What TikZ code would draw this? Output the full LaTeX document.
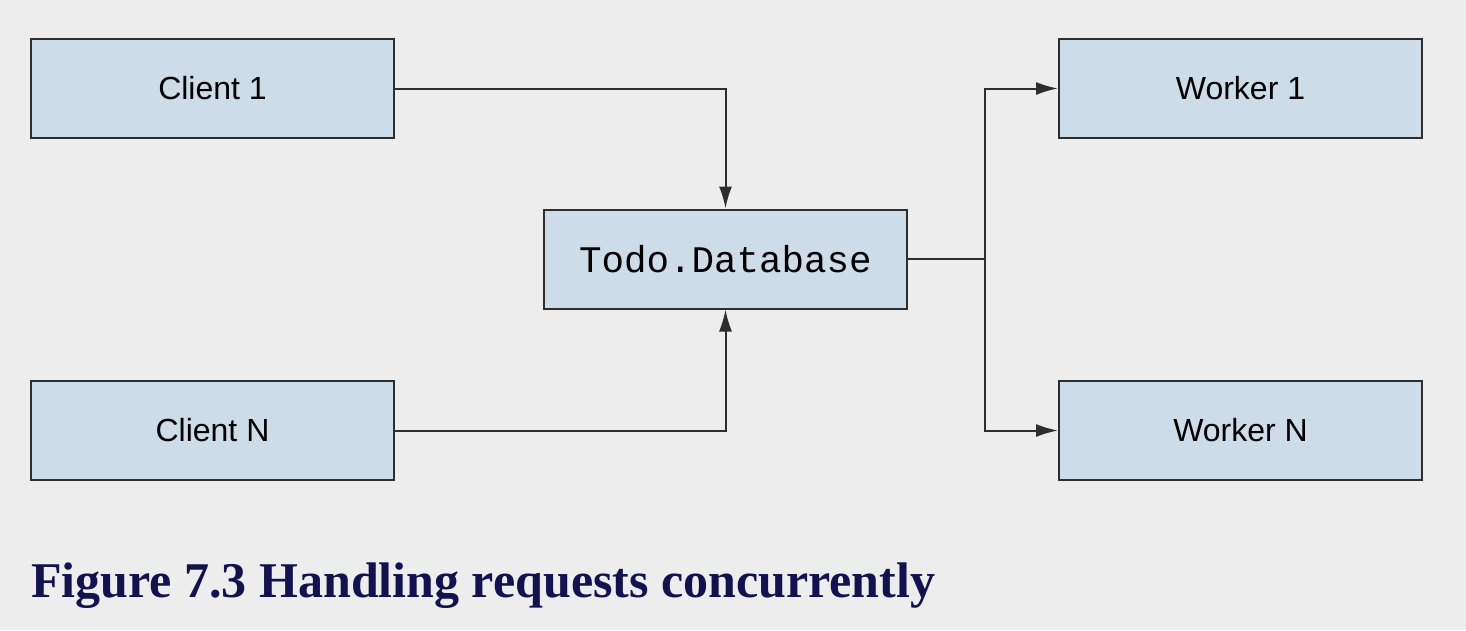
\documentclass[tikz,border=0pt]{standalone}
\usepackage{fontspec}
\setmainfont{Liberation Sans}
\newfontfamily\monofont{Liberation Mono}
\newfontfamily\capfont{Liberation Serif}
\usetikzlibrary{arrows.meta}
\definecolor{bg}{HTML}{EDEDED}
\definecolor{boxfill}{HTML}{CDDCE9}
\definecolor{edge}{HTML}{2E2E2E}
\definecolor{capcol}{HTML}{12124F}
\begin{document}
\begin{tikzpicture}[x=1pt,y=-1pt,
  box/.style={draw=edge,line width=2pt,fill=boxfill,minimum width=363pt,minimum height=99pt,inner sep=0pt,font=\fontsize{32}{36}\selectfont},
  conn/.style={draw=edge,line width=2pt},
  arr/.style={conn,-{Latex[length=22pt,width=13pt]}}]
\fill[bg] (0,0) rectangle (1466,630);
\useasboundingbox (0,0) rectangle (1466,630);
\node[box] (c1) at (212.5,88.5) {Client 1};
\node[box] (cn) at (212.5,430.5) {Client N};
\node[box,font=\monofont\fontsize{37.5}{40}\selectfont] (db) at (725.5,259) {Todo.Database};
\node[box] (w1) at (1240.5,88.5) {Worker 1};
\node[box] (wn) at (1240.5,430.5) {Worker N};
\coordinate (sp) at (985,259);
\draw[arr] (c1.east) -| (db.north);
\draw[arr] (cn.east) -| (db.south);
\draw[conn] (db.east) -- (sp);
\draw[arr] (sp) |- (w1.west);
\draw[arr] (sp) |- (wn.west);
\node[anchor=base west,inner sep=0pt,text=capcol] (cap) at (31,597)
  {\resizebox{904pt}{!}{\capfont\bfseries\fontsize{40}{44}\selectfont Figure 7.3 Handling requests concurrently}};
\end{tikzpicture}
\end{document}
